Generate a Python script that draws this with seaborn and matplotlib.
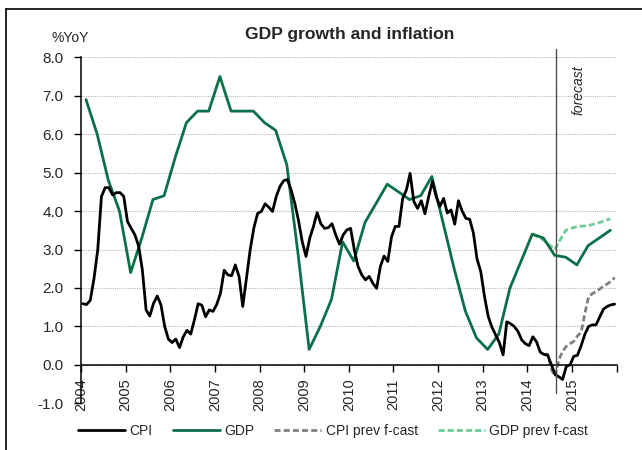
import numpy as np
import pandas as pd
import matplotlib
matplotlib.use("Agg")
import matplotlib.pyplot as plt
from matplotlib.lines import Line2D
import seaborn as sns

# ---------------- data ----------------
start_year = 2004
tick_years = list(range(2004, 2017))
tick_labels = [str(y) for y in range(2004, 2016)] + [""]

# CPI, monthly, Jan 2004 - Dec 2015 (%YoY)
cpi_2004 = [1.59, 1.57, 1.68, 2.25, 2.99, 4.38, 4.61, 4.61, 4.42, 4.48, 4.48, 4.38]
cpi_2005 = [3.73, 3.55, 3.38, 3.09, 2.47, 1.43, 1.27, 1.60, 1.79, 1.56, 1.00, 0.67]
cpi_2006 = [0.58, 0.67, 0.45, 0.73, 0.90, 0.80, 1.17, 1.59, 1.55, 1.25, 1.43, 1.39]
cpi_2007 = [1.57, 1.86, 2.46, 2.34, 2.32, 2.60, 2.30, 1.52, 2.25, 3.00, 3.57, 3.94]
cpi_2008 = [3.99, 4.19, 4.10, 3.99, 4.38, 4.64, 4.79, 4.82, 4.55, 4.20, 3.75, 3.20]
cpi_2009 = [2.82, 3.29, 3.60, 3.96, 3.67, 3.55, 3.57, 3.67, 3.38, 3.14, 3.38, 3.51]
cpi_2010 = [3.55, 2.99, 2.56, 2.34, 2.21, 2.30, 2.12, 1.99, 2.56, 2.83, 2.69, 3.33]
cpi_2011 = [3.60, 3.60, 4.33, 4.55, 4.98, 4.25, 4.07, 4.27, 3.93, 4.38, 4.77, 4.38]
cpi_2012 = [4.12, 4.33, 3.95, 4.03, 3.66, 4.27, 4.00, 3.81, 3.79, 3.44, 2.75, 2.43]
cpi_2013 = [1.78, 1.26, 0.98, 0.78, 0.58, 0.26, 1.12, 1.07, 1.00, 0.87, 0.65, 0.55]
cpi_2014 = [0.50, 0.73, 0.60, 0.33, 0.27, 0.25, 0.00, -0.25, -0.31, -0.38, -0.04, 0.00]
cpi_2015 = [0.22, 0.25, 0.50, 0.80, 1.00, 1.04, 1.04, 1.25, 1.45, 1.52, 1.56, 1.58]
cpi = (cpi_2004 + cpi_2005 + cpi_2006 + cpi_2007 + cpi_2008 + cpi_2009 +
       cpi_2010 + cpi_2011 + cpi_2012 + cpi_2013 + cpi_2014 + cpi_2015)

# GDP, quarterly, 2004Q1 - 2015Q4 (%YoY)
gdp = [6.9, 6.0, 4.8, 4.0,
       2.4, 3.3, 4.3, 4.4,
       5.4, 6.3, 6.6, 6.6,
       7.5, 6.6, 6.6, 6.6,
       6.3, 6.1, 5.2, 2.9,
       0.4, 1.0, 1.7, 3.2,
       2.7, 3.7, 4.2, 4.7,
       4.5, 4.3, 4.4, 4.9,
       3.7, 2.5, 1.4, 0.7,
       0.4, 0.8, 2.0, 2.7,
       3.4, 3.3, 2.85, 2.8,
       2.6, 3.1, 3.3, 3.5]

# previous forecasts
cpi_prev_first_month = 124  # months after Jan 2004 (May 2014)
cpi_prev = [0.27, 0.28, -0.12, -0.30, 0.13, 0.35, 0.48, 0.55, 0.61, 0.75,
            0.85, 1.34, 1.78, 1.85, 1.91, 1.97, 2.05, 2.10, 2.18, 2.27]
gdp_prev_first_quarter = 40  # quarters after 2004Q1 (2014Q1)
gdp_prev = [3.4, 3.25, 3.0, 3.5, 3.6, 3.62, 3.7, 3.8]

forecast_start = 2014.65

# ---------------- frames ----------------
cpi_df = pd.DataFrame({"t": start_year + (np.arange(len(cpi)) + 0.5) / 12, "v": cpi})
gdp_df = pd.DataFrame({"t": start_year + (np.arange(len(gdp)) + 0.45) / 4, "v": gdp})
cpi_prev_df = pd.DataFrame({"t": start_year + (np.arange(len(cpi_prev)) + cpi_prev_first_month + 0.5) / 12,
                            "v": cpi_prev})
gdp_prev_df = pd.DataFrame({"t": start_year + (np.arange(len(gdp_prev)) + gdp_prev_first_quarter + 0.45) / 4,
                            "v": gdp_prev})

# ---------------- style ----------------
sns.set_style("white")
plt.rcParams["font.family"] = ["Liberation Sans", "DejaVu Sans"]

c_cpi = "#000000"
c_gdp = "#0b7048"
c_cpi_prev = "#808080"
c_gdp_prev = "#6ccb98"
lw = 2.0

fig = plt.figure(figsize=(6.42, 4.5), dpi=100)
ax = fig.add_axes([81 / 642, 1 - 403.3 / 450, (616.5 - 81) / 642, (403.3 - 57.3) / 450])

# grid
for yv in range(-1, 9):
    ax.axhline(yv, color="#b8b8b8", lw=0.8, ls=(0, (1, 1)), zorder=0)

sns.lineplot(data=gdp_prev_df, x="t", y="v", ax=ax, color=c_gdp_prev, lw=lw,
             ls=(0, (2.2, 1.1)), label="GDP prev f-cast", zorder=2)
sns.lineplot(data=cpi_prev_df, x="t", y="v", ax=ax, color=c_cpi_prev, lw=lw,
             ls=(0, (2.2, 1.1)), label="CPI prev f-cast", zorder=2)
sns.lineplot(data=gdp_df, x="t", y="v", ax=ax, color=c_gdp, lw=lw, label="GDP", zorder=3)
sns.lineplot(data=cpi_df, x="t", y="v", ax=ax, color=c_cpi, lw=lw, label="CPI", zorder=4)

ax.set_xlim(2004, 2016)
ax.set_ylim(-1, 8)
ax.set_xlabel("")
ax.set_ylabel("")

# forecast separator
ax.plot([forecast_start, forecast_start], [-0.73, 8.22], color="#505050", lw=1.0,
        clip_on=False, zorder=5)
ax.text(forecast_start + 0.49, 7.15, "forecast", rotation=90, style="italic",
        ha="center", va="center", fontsize=10)

# spines
for s in ["top", "right"]:
    ax.spines[s].set_visible(False)
ax.spines["bottom"].set_position(("data", 0))
for s in ["left", "bottom"]:
    ax.spines[s].set_color("black")
    ax.spines[s].set_linewidth(1.1)

ax.set_yticks(range(-1, 9))
ax.set_yticklabels([f"{v:.1f}" for v in range(-1, 9)], fontsize=11)
ax.set_xticks(tick_years)
ax.set_xticklabels(tick_labels, rotation=90, fontsize=10.5)
ax.tick_params(axis="y", direction="out", length=5, width=1, color="black", pad=7.5)
ax.tick_params(axis="x", direction="out", length=5, width=1, color="black", pad=5)
ax.tick_params(left=True, bottom=True)

# legend
handles, labels = ax.get_legend_handles_labels()
order = ["CPI", "GDP", "CPI prev f-cast", "GDP prev f-cast"]
hmap = dict(zip(labels, handles))
ax.get_legend().remove()
fig.legend([hmap[k] for k in order], order, loc="center", ncol=4,
           bbox_to_anchor=(333 / 642, 1 - 431 / 450), frameon=False,
           fontsize=10, handlelength=3.4, handletextpad=0.3, columnspacing=1.45)

# titles
fig.text(350 / 642, 1 - 35 / 450, "GDP growth and inflation", ha="center", va="center",
         fontsize=12.6, fontweight="bold")
fig.text(70 / 642, 1 - 37.5 / 450, "%YoY", ha="center", va="center", fontsize=10)

# outer frame (top & left only)
fig.add_artist(Line2D([6 / 642, 1], [1 - 9 / 450, 1 - 9 / 450], transform=fig.transFigure,
                      color="black", lw=1.2))
fig.add_artist(Line2D([6 / 642, 6 / 642], [0, 1 - 9 / 450], transform=fig.transFigure,
                      color="black", lw=1.2))

fig.savefig("out.png", dpi=100)
